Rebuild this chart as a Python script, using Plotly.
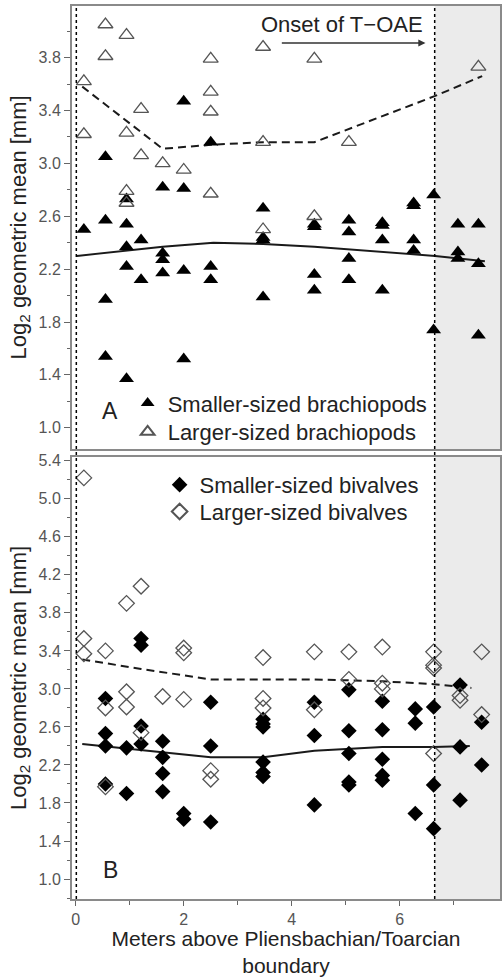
import plotly.graph_objects as go

# ---------------- data ----------------
# Panel A: brachiopods
brach_small_x = [0.15,
                 0.55, 0.55, 0.55, 0.55,
                 0.94, 0.94, 0.94, 0.94, 0.94,
                 1.21, 1.21,
                 1.61, 1.61, 1.61, 1.61,
                 2.0, 2.0, 2.0, 2.0,
                 2.5, 2.5, 2.5,
                 3.47, 3.47, 3.47, 3.47,
                 4.42, 4.42, 4.42, 4.42,
                 5.06, 5.06, 5.06, 5.06,
                 5.68, 5.68, 5.68, 5.68,
                 6.26, 6.26, 6.26, 6.26,
                 6.63, 6.63,
                 7.08, 7.08, 7.08,
                 7.46, 7.46, 7.46]
brach_small_y = [2.50,
                 3.05, 2.57, 1.97, 1.54,
                 2.73, 2.54, 2.37, 2.22, 1.37,
                 2.42, 2.12,
                 2.82, 2.32, 2.27, 2.17,
                 3.47, 2.81, 2.19, 1.52,
                 3.16, 2.22, 2.12,
                 2.66, 2.44, 2.42, 1.99,
                 2.54, 2.52, 2.16, 2.04,
                 2.57, 2.48, 2.28, 2.12,
                 2.55, 2.53, 2.42, 2.04,
                 2.70, 2.68, 2.42, 2.34,
                 2.76, 1.74,
                 2.54, 2.33, 2.28,
                 2.54, 2.24, 1.70]

brach_large_x = [0.15, 0.15, 0.55, 0.55, 0.94, 0.94, 0.94, 0.94, 1.21, 1.21, 1.61, 2.0,
                 2.5, 2.5, 2.5, 2.5, 3.47, 3.47, 3.47, 4.42, 4.42, 5.06, 7.46]
brach_large_y = [3.62, 3.22, 4.05, 3.81, 3.97, 3.23, 2.79, 2.70, 3.41, 3.06, 3.00, 2.95,
                 3.79, 3.54, 3.39, 2.77, 3.88, 3.16, 2.50, 3.79, 2.60, 3.16, 3.73]

brach_small_fit_x = [0.02, 0.94, 1.61, 2.55, 3.47, 4.42, 5.68, 6.66, 7.58]
brach_small_fit_y = [2.30, 2.34, 2.37, 2.40, 2.39, 2.37, 2.33, 2.30, 2.26]
brach_large_fit_x = [0.12, 0.94, 1.61, 2.5, 3.47, 4.42, 5.06, 6.66, 7.53]
brach_large_fit_y = [3.58, 3.32, 3.11, 3.14, 3.16, 3.16, 3.26, 3.51, 3.66]

# Panel B: bivalves
biv_small_x = [0.55, 0.55, 0.55, 0.55,
               0.94, 0.94,
               1.21, 1.21, 1.21, 1.21,
               1.61, 1.61, 1.61, 1.61,
               2.0, 2.0,
               2.5, 2.5, 2.5,
               3.47, 3.47, 3.47, 3.47, 3.47, 3.47,
               4.42, 4.42, 4.42,
               5.06, 5.06, 5.06, 5.06, 5.06,
               5.68, 5.68, 5.68, 5.68, 5.68,
               6.29, 6.29, 6.29,
               6.63, 6.63, 6.63,
               7.12, 7.12, 7.12,
               7.52, 7.52]
biv_small_y = [2.90, 2.53, 2.40, 2.00,
               2.38, 1.90,
               3.53, 3.46, 2.61, 2.42,
               2.45, 2.28, 2.11, 1.92,
               1.69, 1.63,
               2.86, 2.40, 1.60,
               2.68, 2.63, 2.60, 2.23, 2.12, 2.08,
               2.86, 2.51, 1.78,
               2.99, 2.56, 2.32, 2.02, 1.99,
               2.87, 2.57, 2.26, 2.09, 2.04,
               2.79, 2.64, 1.69,
               2.81, 1.99, 1.53,
               3.04, 2.39, 1.83,
               2.65, 2.20]

biv_large_x = [0.15, 0.15, 0.15,
               0.55, 0.55, 0.55,
               0.94, 0.94, 0.94,
               1.21, 1.21,
               1.61,
               2.0, 2.0, 2.0,
               2.5, 2.5,
               3.47, 3.47, 3.47,
               4.42, 4.42,
               5.06, 5.06,
               5.68, 5.68, 5.68,
               6.63, 6.63, 6.63, 6.63,
               7.12, 7.12,
               7.52, 7.52]
biv_large_y = [5.22, 3.53, 3.37,
               3.40, 2.80, 1.97,
               3.90, 2.97, 2.81,
               4.08, 2.54,
               2.92,
               3.43, 3.38, 2.89,
               2.14, 2.05,
               3.33, 2.90, 2.80,
               3.39, 2.78,
               3.39, 3.10,
               3.44, 3.06, 3.00,
               3.39, 3.25, 3.22, 2.32,
               2.93, 2.88,
               3.39, 2.73]

biv_small_fit_x = [0.12, 0.94, 2.5, 3.47, 4.42, 5.68, 6.63, 7.3]
biv_small_fit_y = [2.42, 2.37, 2.28, 2.28, 2.35, 2.39, 2.39, 2.40]
biv_large_fit_x = [0.12, 1.21, 2.5, 3.47, 4.42, 5.68, 6.63, 7.33]
biv_large_fit_y = [3.31, 3.21, 3.10, 3.10, 3.10, 3.08, 3.05, 3.01]

x_ticks = [0, 2, 4, 6]
y_ticks_a = [1.0, 1.4, 1.8, 2.2, 2.6, 3.0, 3.4, 3.8]
y_ticks_b = [1.0, 1.4, 1.8, 2.2, 2.6, 3.0, 3.4, 3.8, 4.2, 4.6, 5.0, 5.4]
boundary_x = 0.01
toae_x = 6.65

# ---------------- figure ----------------
FONT = "Liberation Sans, Arial, sans-serif"
FRAME = "#8a8a8a"
XMIN, XMAX = -0.07, 7.86

fig = go.Figure()

# Panel A
fig.add_trace(go.Scatter(x=brach_small_fit_x, y=brach_small_fit_y, mode="lines",
                         line=dict(color="#1a1a1a", width=2), showlegend=False,
                         xaxis="x", yaxis="y"))
fig.add_trace(go.Scatter(x=brach_large_fit_x, y=brach_large_fit_y, mode="lines",
                         line=dict(color="#1a1a1a", width=2, dash="8px,5px"), showlegend=False,
                         xaxis="x", yaxis="y"))
fig.add_trace(go.Scatter(x=brach_small_x, y=brach_small_y, mode="markers",
                         name="Smaller-sized brachiopods", legend="legend",
                         marker=dict(symbol="triangle-up", size=13, color="black"),
                         xaxis="x", yaxis="y"))
fig.add_trace(go.Scatter(x=brach_large_x, y=brach_large_y, mode="markers",
                         name="Larger-sized brachiopods", legend="legend2",
                         marker=dict(symbol="triangle-up-open", size=13, color="#555555",
                                     line=dict(width=1.3)),
                         xaxis="x", yaxis="y"))

# Panel B
fig.add_trace(go.Scatter(x=biv_small_fit_x, y=biv_small_fit_y, mode="lines",
                         line=dict(color="#1a1a1a", width=2), showlegend=False,
                         xaxis="x2", yaxis="y2"))
fig.add_trace(go.Scatter(x=biv_large_fit_x, y=biv_large_fit_y, mode="lines",
                         line=dict(color="#1a1a1a", width=2, dash="8px,5px"), showlegend=False,
                         xaxis="x2", yaxis="y2"))
fig.add_trace(go.Scatter(x=biv_small_x, y=biv_small_y, mode="markers",
                         name="Smaller-sized bivalves", legend="legend3",
                         marker=dict(symbol="diamond", size=12, color="black"),
                         xaxis="x2", yaxis="y2"))
fig.add_trace(go.Scatter(x=biv_large_x, y=biv_large_y, mode="markers",
                         name="Larger-sized bivalves", legend="legend4",
                         marker=dict(symbol="diamond-open", size=12, color="#555555",
                                     line=dict(width=1.3)),
                         xaxis="x2", yaxis="y2"))

shapes = []
for xr, yr in (("x", "y"), ("x2", "y2")):
    shapes.append(dict(type="rect", xref=xr, yref=f"{yr} domain", x0=toae_x, x1=XMAX,
                       y0=0, y1=1, fillcolor="#ebebeb", line=dict(width=0), layer="below"))
for xv in (boundary_x, toae_x):
    shapes.append(dict(type="line", xref="x", yref="paper", x0=xv, x1=xv, y0=0, y1=1,
                       line=dict(color="black", width=1.5, dash="dot")))

annotations = [
    dict(x=4.93, y=4.05, xref="x", yref="y", text="Onset of T\u2212OAE", showarrow=False,
         font=dict(family=FONT, size=22, color="#222")),
    dict(x=6.48, y=3.91, ax=3.79, ay=3.91, xref="x", yref="y", axref="x", ayref="y",
         text="", showarrow=True, arrowhead=2, arrowsize=0.9, arrowwidth=1.6, arrowcolor="#333"),
    dict(x=0.64, y=1.13, xref="x", yref="y", text="A", showarrow=False,
         font=dict(family=FONT, size=23, color="#222")),
    dict(x=0.64, y=1.09, xref="x2", yref="y2", text="B", showarrow=False,
         font=dict(family=FONT, size=23, color="#222")),
]

axis_common = dict(showline=True, linecolor=FRAME, linewidth=2, mirror=True,
                   showgrid=False, zeroline=False,
                   tickfont=dict(family=FONT, size=16, color="#555"),
                   ticks="outside", tickcolor="#666", tickwidth=1.2)

ytitle = dict(text="Log<sub>2</sub> geometric mean [mm]", font=dict(family=FONT, size=22, color="#222"),
              standoff=6)

leg_common = dict(xanchor="left", yanchor="middle", bgcolor="rgba(0,0,0,0)",
                  font=dict(family=FONT, size=22, color="#222"), itemsizing="constant")

fig.update_layout(
    width=503, height=977,
    margin=dict(l=72, r=1, t=4, b=76),
    paper_bgcolor="white", plot_bgcolor="white",
    font=dict(family=FONT, color="#222"),
    xaxis=dict(domain=[0, 1], range=[XMIN, XMAX], anchor="y", showticklabels=False,
               showline=True, linecolor=FRAME, linewidth=2, mirror=True, showgrid=False,
               zeroline=False, ticks=""),
    yaxis=dict(domain=[0.504, 1.0], range=[0.84, 4.19], anchor="x",
               tickvals=y_ticks_a, ticktext=[f"{v:.1f}" for v in y_ticks_a], ticklen=6,
               minor=dict(dtick=0.2, tick0=0, ticks="outside", ticklen=3, tickcolor="#666"),
               title=ytitle, **axis_common),
    xaxis2=dict(domain=[0, 1], range=[XMIN, XMAX], anchor="y2",
                tickvals=x_ticks, ticklen=5,
                minor=dict(dtick=1, tick0=0, ticks="outside", ticklen=4, tickcolor="#666"),
                title=dict(text="Meters above Pliensbachian/Toarcian<br>boundary",
                           font=dict(family=FONT, size=21, color="#222"), standoff=6),
                **axis_common),
    yaxis2=dict(domain=[0, 0.495], range=[0.79, 5.44], anchor="x2",
                tickvals=y_ticks_b, ticktext=[f"{v:.1f}" for v in y_ticks_b], ticklen=6,
                minor=dict(dtick=0.2, tick0=0, ticks="outside", ticklen=3, tickcolor="#666"),
                title=ytitle, **axis_common),
    legend=dict(x=0.130, y=0.5552, **leg_common),
    legend2=dict(x=0.130, y=0.5229, **leg_common),
    legend3=dict(x=0.2047, y=0.4638, **leg_common),
    legend4=dict(x=0.2047, y=0.4337, **leg_common),
    shapes=shapes,
    annotations=annotations,
)

fig.write_html("out.html", config={"displayModeBar": False},
               post_script="document.body.style.margin='0';document.body.style.overflow='hidden';")
